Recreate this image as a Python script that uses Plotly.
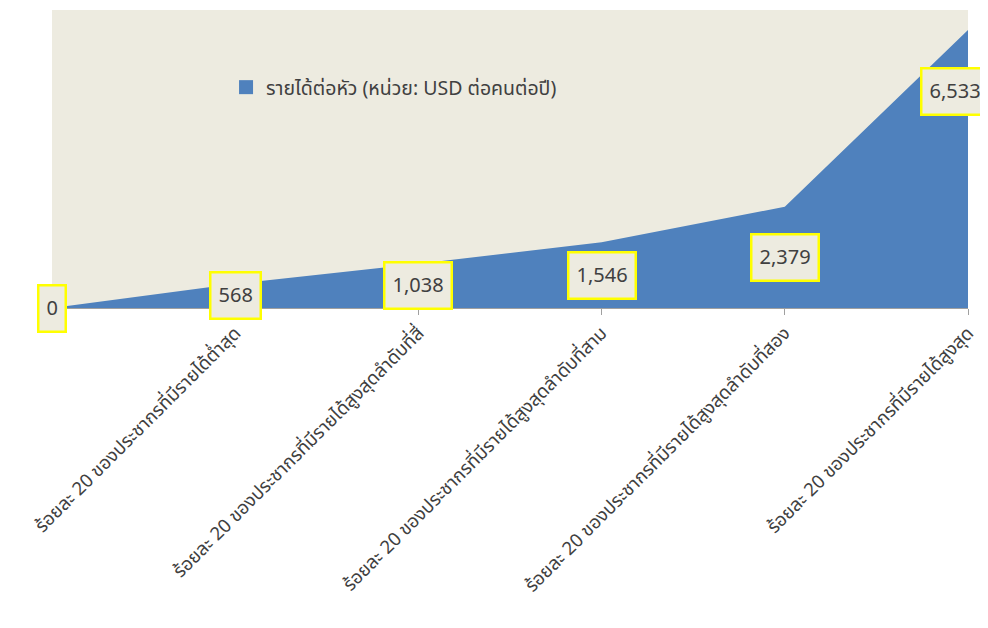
import plotly.graph_objects as go

# ค่ารายได้ต่อหัว แยกตามกลุ่มประชากร (จุดแรกเป็นจุดเริ่มต้นที่ 0)
positions = [0, 1, 2, 3, 4, 5]
income = [0, 568, 1038, 1546, 2379, 6533]
tick_labels = [
    "ร้อยละ 20 ของประชากรที่มีรายได้ต่ำสุด",
    "ร้อยละ 20 ของประชากรที่มีรายได้สูงสุดลำดับที่สี่",
    "ร้อยละ 20 ของประชากรที่มีรายได้สูงสุดลำดับที่สาม",
    "ร้อยละ 20 ของประชากรที่มีรายได้สูงสุดลำดับที่สอง",
    "ร้อยละ 20 ของประชากรที่มีรายได้สูงสุด",
]
series_name = "รายได้ต่อหัว (หน่วย: USD ต่อคนต่อปี)"

BLUE = "#4F81BD"
BEIGE = "#EDEBE0"
FONT = "Tahoma, 'Noto Sans Thai', 'Noto Sans', sans-serif"

fig = go.Figure()
fig.add_trace(go.Scatter(
    x=positions, y=income, mode="lines", line=dict(width=0, color=BLUE),
    fill="tozeroy", fillcolor=BLUE, showlegend=False, hoverinfo="skip",
))
# legend entry only (square marker like the original)
fig.add_trace(go.Scatter(
    x=[None], y=[None], mode="markers", name=series_name,
    marker=dict(symbol="square", size=14, color=BLUE),
))

# data labels, placed in the middle of the area (the last one moved by hand)
for i, (x, v) in enumerate(zip(positions, income)):
    last = i == len(income) - 1
    fig.add_annotation(
        x=x - (0.07 if last else 0), y=v if last else v / 2,
        yshift=-62 if last else 0,
        text=f"{v:,}", showarrow=False,
        font=dict(family=FONT, size=20, color="#404040"),
        bgcolor=BEIGE, bordercolor="#FFFF00", borderwidth=2.5, borderpad=7,
    )

# the page body has an 8px margin, so the figure is a bit smaller than the window
fig.update_layout(
    width=972, height=612,
    margin=dict(l=44, r=12, t=2, b=312, autoexpand=False),
    paper_bgcolor="white", plot_bgcolor=BEIGE,
    font=dict(family=FONT, size=19, color="#404040"),
    legend=dict(x=0.19, y=0.74, xanchor="left", yanchor="middle",
                bgcolor="rgba(0,0,0,0)", font=dict(size=19.5)),
    hovermode=False,
)
fig.update_xaxes(
    range=[0, 5], tickvals=positions[1:], ticktext=tick_labels,
    tickangle=-45, ticks="outside", ticklen=6, tickcolor="#A0A0A0",
    showline=True, linecolor="#A0A0A0", showgrid=False, zeroline=False,
    tickfont=dict(size=18.5, color="#404040"), ticklabeloverflow="allow",
    ticklabelstandoff=0, automargin=False,
)
fig.update_yaxes(range=[0, 7000], visible=False, showgrid=False)

fig.write_html("out.html")
